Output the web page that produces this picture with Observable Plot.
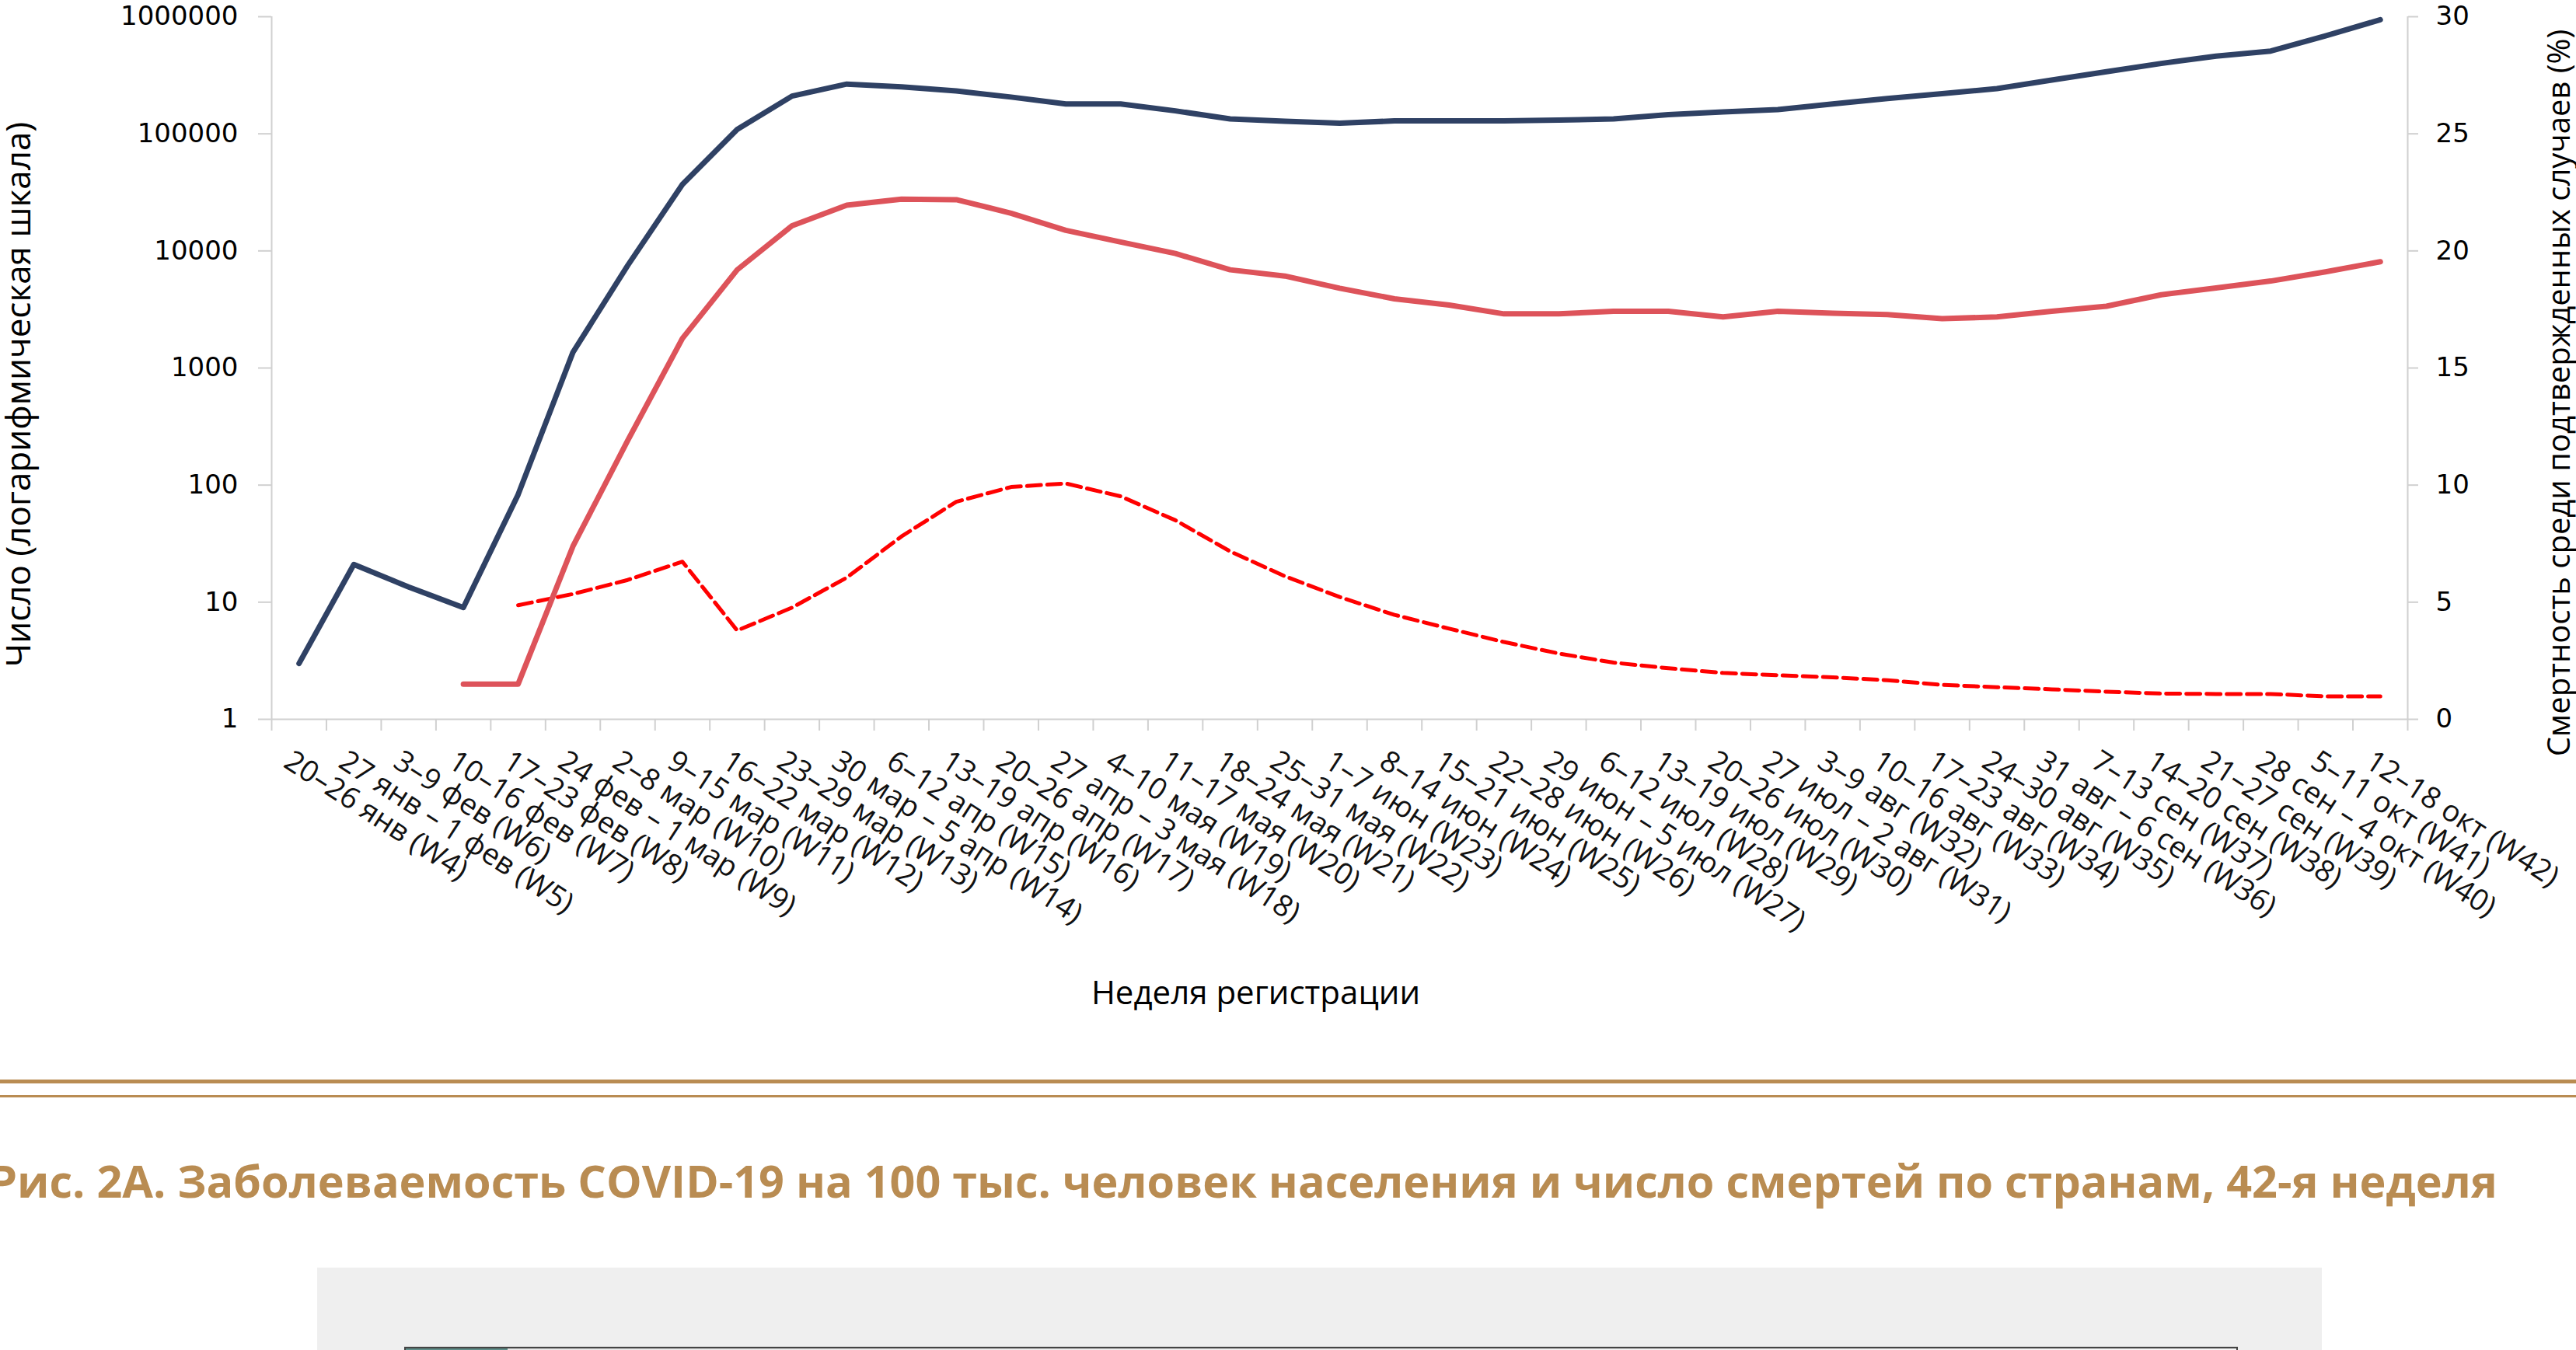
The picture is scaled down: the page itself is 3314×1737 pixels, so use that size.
<!DOCTYPE html>
<html>
<head>
<meta charset="utf-8">
<script src="https://cdn.jsdelivr.net/npm/d3@7"></script>
<script src="https://cdn.jsdelivr.net/npm/@observablehq/plot@0.6"></script>
<style>
  html, body { margin: 0; padding: 0; background: #fff; }
  body { width: 3314px; height: 1737px; overflow: hidden; position: relative; }
  #chart { position: absolute; left: 0; top: 0; }
  .rule { position: absolute; left: 0; width: 3314px; background: #b98c52; }
  #caption { position: absolute; left: -14px; top: 1491px; font-family: "Open Sans", sans-serif; font-weight: 700;
             font-size: 57.5px; line-height: 1; color: #b98c52; white-space: nowrap; }
  #box { position: absolute; left: 408px; top: 1631px; width: 2579px; height: 120px; background: #efefef; }
  #boxline { position: absolute; left: 112px; top: 101px; width: 2359px; height: 1px; background: #d2d2d2; }
  #boximg { position: absolute; left: 112px; top: 102px; width: 2355px; height: 20px; border: 2px solid #444;
            background: linear-gradient(to right, #5f8f8b 0, #5f8f8b 131px, #e8e8e8 131px, #f7f7f7 100%); }
</style>
</head>
<body>
<div id="chart"></div>
<div class="rule" style="top:1389px;height:5px"></div>
<div class="rule" style="top:1409px;height:3px"></div>
<div id="caption">Рис. 2А. Заболеваемость COVID-19 на 100 тыс. человек населения и число смертей по странам, 42-я неделя</div>
<div id="box"><div id="boxline"></div><div id="boximg"></div></div>
<script>
const weekLabels = [
  "20–26 янв (W4)", "27 янв – 1 фев (W5)", "3–9 фев (W6)", "10–16 фев (W7)", "17–23 фев (W8)",
  "24 фев – 1 мар (W9)", "2–8 мар (W10)", "9–15 мар (W11)", "16–22 мар (W12)", "23–29 мар (W13)",
  "30 мар – 5 апр (W14)", "6–12 апр (W15)", "13–19 апр (W16)", "20–26 апр (W17)", "27 апр – 3 мая (W18)",
  "4–10 мая (W19)", "11–17 мая (W20)", "18–24 мая (W21)", "25–31 мая (W22)", "1–7 июн (W23)",
  "8–14 июн (W24)", "15–21 июн (W25)", "22–28 июн (W26)", "29 июн – 5 июл (W27)", "6–12 июл (W28)",
  "13–19 июл (W29)", "20–26 июл (W30)", "27 июл – 2 авг (W31)", "3–9 авг (W32)", "10–16 авг (W33)",
  "17–23 авг (W34)", "24–30 авг (W35)", "31 авг – 6 сен (W36)", "7–13 сен (W37)", "14–20 сен (W38)",
  "21–27 сен (W39)", "28 сен – 4 окт (W40)", "5–11 окт (W41)", "12–18 окт (W42)"
];
// confirmed cases per week (left, log axis)
const cases = [
  3, 21, 13.5, 9, 83, 1360, 7500, 37000, 109000, 210000,
  266000, 252000, 232000, 206000, 180000, 180000, 157000, 134000, 128000, 123000,
  129000, 129000, 129000, 131000, 134000, 146000, 154000, 161000, 180000, 200000,
  220000, 243000, 288000, 339000, 399000, 461000, 509000, 687000, 942000
];
// deaths per week (left, log axis)
const deaths = [
  null, null, null, 2, 2, 30, 240, 1790, 6900, 16400,
  24600, 27700, 27400, 21000, 15000, 11900, 9500, 6900, 6100, 4800,
  3900, 3450, 2900, 2900, 3050, 3050, 2730, 3050, 2940, 2860,
  2640, 2730, 3050, 3370, 4220, 4830, 5530, 6630, 8090
];
// case fatality among confirmed cases, % (right axis)
const cfr = [
  null, null, null, null, 4.87, 5.35, 5.95, 6.73, 3.79, 4.77,
  6.05, 7.81, 9.29, 9.92, 10.07, 9.52, 8.5, 7.17, 6.11, 5.22,
  4.46, 3.87, 3.3, 2.81, 2.42, 2.18, 1.98, 1.88, 1.79, 1.67,
  1.47, 1.37, 1.28, 1.18, 1.1, 1.08, 1.08, 0.98, 0.98
];
const leftTicks = [1, 10, 100, 1000, 10000, 100000, 1000000];
const rightTicks = [0, 5, 10, 15, 20, 25, 30];
const leftTitle = "Число (логарифмическая шкала)";
const rightTitle = "Смертность среди подтвержденных случаев (%)";
const xTitle = "Неделя регистрации";

const rows = weekLabels.map((label, i) => ({i, label, cases: cases[i], deaths: deaths[i], cfr: cfr[i]}));
// right axis (0–30 %) spans the same height as the 6 decades of the left axis
const pctToY = p => Math.pow(10, p * 6 / 30);
const yToPct = v => Math.round(Math.log10(v) * 30 / 6);
const boundaries = d3.range(weekLabels.length + 1).map(k => k - 0.5);
const axisGray = "#d0d0d0";

const chart = Plot.plot({
  width: 3314,
  height: 1320,
  marginTop: 21,
  marginRight: 217,
  marginBottom: 395,
  marginLeft: 349,
  style: {background: "transparent", fontFamily: "'Open Sans', sans-serif", fontSize: "36px", color: "#000", overflow: "visible"},
  x: {type: "linear", domain: [-0.5, weekLabels.length - 0.5], axis: null},
  y: {type: "log", domain: [1, 1e6], axis: null},
  marks: [
    Plot.ruleY([1], {stroke: axisGray, strokeWidth: 2}),
    Plot.ruleX([-0.5, weekLabels.length - 0.5], {stroke: axisGray, strokeWidth: 2}),
    Plot.axisX(boundaries, {anchor: "bottom", label: null, tickSize: 15, tickFormat: () => "", stroke: axisGray, strokeWidth: 2}),
    Plot.axisX(rows.map(d => d.i), {anchor: "bottom", label: null, tickSize: 0, tickPadding: 50, tickRotate: 33,
      tickFormat: i => weekLabels[i], fontFamily: "'Open Sans', sans-serif", fontSize: 38, fill: "#111", dx: -15}),
    Plot.axisY(leftTicks, {anchor: "left", label: null, tickSize: 17, tickPadding: 26, tickFormat: d => String(d),
      stroke: axisGray, strokeWidth: 2, fontFamily: "'DejaVu Sans', sans-serif", fontSize: 34, fill: "#000"}),
    Plot.axisY(rightTicks.map(pctToY), {anchor: "right", label: null, tickSize: 13, tickPadding: 23, tickFormat: v => String(yToPct(v)),
      stroke: axisGray, strokeWidth: 2, fontFamily: "'DejaVu Sans', sans-serif", fontSize: 34, fill: "#000"}),
    Plot.line(rows.filter(d => d.cfr != null), {x: "i", y: d => pctToY(d.cfr), stroke: "#ff0000", strokeWidth: 5, strokeDasharray: "18,8"}),
    Plot.line(rows.filter(d => d.deaths != null), {x: "i", y: "deaths", stroke: "#dd535a", strokeWidth: 7}),
    Plot.line(rows, {x: "i", y: "cases", stroke: "#2f4164", strokeWidth: 7}),
    Plot.text([leftTitle], {text: d => d, frameAnchor: "left", textAnchor: "middle", dx: -325, dy: 34, rotate: -90, fontSize: 44, fill: "#000"}),
    Plot.text([rightTitle], {text: d => d, frameAnchor: "right", textAnchor: "middle", dx: 196, dy: 32, rotate: -90, fontSize: 40, fill: "#000"}),
    Plot.text([xTitle], {text: d => d, frameAnchor: "bottom", dx: -108, dy: 366, lineAnchor: "bottom", fontSize: 42, fill: "#000"})
  ]
});
document.getElementById("chart").appendChild(chart);
</script>
</body>
</html>
